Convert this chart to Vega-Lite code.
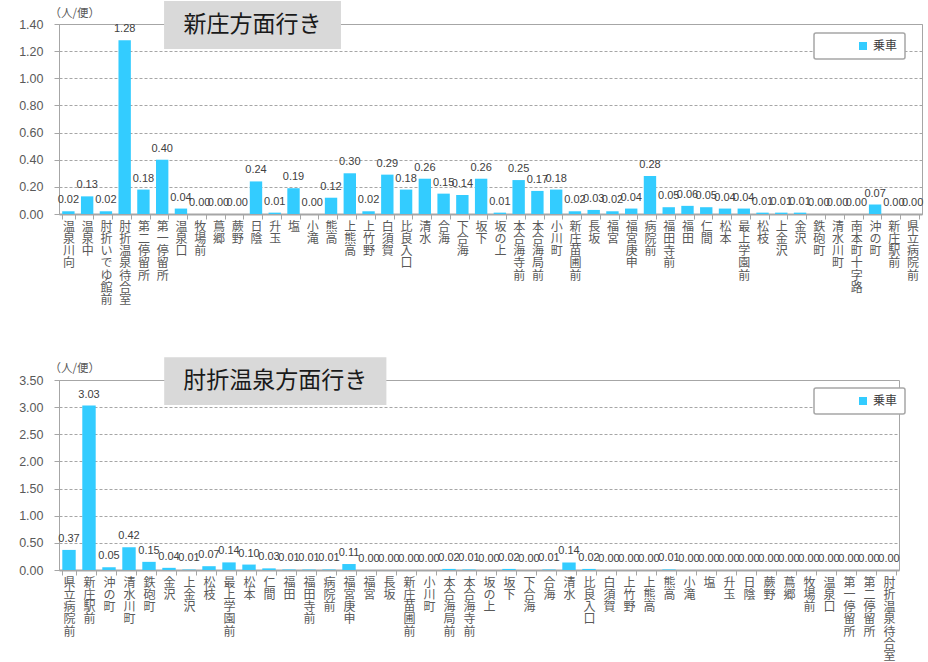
{
  "$schema": "https://vega.github.io/schema/vega-lite/v6.json",
  "padding": {"left": 18, "top": 0, "right": 0, "bottom": 0},
  "background": "white",
  "datasets": {
    "shinjo": [
      {"stop": "温泉川向", "v": 0.02},
      {"stop": "温泉中", "v": 0.13},
      {"stop": "肘折いでゆ館前", "v": 0.02},
      {"stop": "肘折温泉待合室", "v": 1.28},
      {"stop": "第二停留所", "v": 0.18},
      {"stop": "第一停留所", "v": 0.40},
      {"stop": "温泉口", "v": 0.04},
      {"stop": "牧場前", "v": 0.00},
      {"stop": "蔦郷", "v": 0.00},
      {"stop": "蕨野", "v": 0.00},
      {"stop": "日陰", "v": 0.24},
      {"stop": "升玉", "v": 0.01},
      {"stop": "塩", "v": 0.19},
      {"stop": "小滝", "v": 0.00},
      {"stop": "熊高", "v": 0.12},
      {"stop": "上熊高", "v": 0.30},
      {"stop": "上竹野", "v": 0.02},
      {"stop": "白須賀", "v": 0.29},
      {"stop": "比良入口", "v": 0.18},
      {"stop": "清水", "v": 0.26},
      {"stop": "合海", "v": 0.15},
      {"stop": "下合海", "v": 0.14},
      {"stop": "坂下", "v": 0.26},
      {"stop": "坂の上", "v": 0.01},
      {"stop": "本合海寺前", "v": 0.25},
      {"stop": "本合海局前", "v": 0.17},
      {"stop": "小川町", "v": 0.18},
      {"stop": "新庄苗圃前", "v": 0.02},
      {"stop": "長坂", "v": 0.03},
      {"stop": "福宮", "v": 0.02},
      {"stop": "福宮庚申", "v": 0.04},
      {"stop": "病院前", "v": 0.28},
      {"stop": "福田寺前", "v": 0.05},
      {"stop": "福田", "v": 0.06},
      {"stop": "仁間", "v": 0.05},
      {"stop": "松本", "v": 0.04},
      {"stop": "最上学園前", "v": 0.04},
      {"stop": "松枝", "v": 0.01},
      {"stop": "上金沢", "v": 0.01},
      {"stop": "金沢", "v": 0.01},
      {"stop": "鉄砲町", "v": 0.00},
      {"stop": "清水川町", "v": 0.00},
      {"stop": "南本町十字路", "v": 0.00},
      {"stop": "沖の町", "v": 0.07},
      {"stop": "新庄駅前", "v": 0.00},
      {"stop": "県立病院前", "v": 0.00}
    ],
    "hijiori": [
      {"stop": "県立病院前", "v": 0.37},
      {"stop": "新庄駅前", "v": 3.03},
      {"stop": "沖の町", "v": 0.05},
      {"stop": "清水川町", "v": 0.42},
      {"stop": "鉄砲町", "v": 0.15},
      {"stop": "金沢", "v": 0.04},
      {"stop": "上金沢", "v": 0.01},
      {"stop": "松枝", "v": 0.07},
      {"stop": "最上学園前", "v": 0.14},
      {"stop": "松本", "v": 0.10},
      {"stop": "仁間", "v": 0.03},
      {"stop": "福田", "v": 0.01},
      {"stop": "福田寺前", "v": 0.01},
      {"stop": "病院前", "v": 0.01},
      {"stop": "福宮庚申", "v": 0.11},
      {"stop": "福宮", "v": 0.00},
      {"stop": "長坂", "v": 0.00},
      {"stop": "新庄苗圃前", "v": 0.00},
      {"stop": "小川町", "v": 0.00},
      {"stop": "本合海局前", "v": 0.02},
      {"stop": "本合海寺前", "v": 0.01},
      {"stop": "坂の上", "v": 0.00},
      {"stop": "坂下", "v": 0.02},
      {"stop": "下合海", "v": 0.00},
      {"stop": "合海", "v": 0.01},
      {"stop": "清水", "v": 0.14},
      {"stop": "比良入口", "v": 0.02},
      {"stop": "白須賀", "v": 0.00},
      {"stop": "上竹野", "v": 0.00},
      {"stop": "上熊高", "v": 0.00},
      {"stop": "熊高", "v": 0.01},
      {"stop": "小滝", "v": 0.00},
      {"stop": "塩", "v": 0.00},
      {"stop": "升玉", "v": 0.00},
      {"stop": "日陰", "v": 0.00},
      {"stop": "蕨野", "v": 0.00},
      {"stop": "蔦郷", "v": 0.00},
      {"stop": "牧場前", "v": 0.00},
      {"stop": "温泉口", "v": 0.00},
      {"stop": "第一停留所", "v": 0.00},
      {"stop": "第二停留所", "v": 0.00},
      {"stop": "肘折温泉待合室", "v": 0.00}
    ],
    "title1": [{"t": "新庄方面行き"}],
    "title2": [{"t": "肘折温泉方面行き"}]
  },
  "spacing": 49,
  "resolve": {"scale": {"color": "independent"}, "legend": {"color": "independent"}},
  "vconcat": [
    {
      "width": 863,
      "height": 190,
      "resolve": {"scale": {"x": "independent"}, "axis": {"y": "independent"}},
      "layer": [
        {
          "data": {"name": "shinjo"},
          "encoding": {
            "x": {"field": "stop", "type": "nominal", "sort": null,
              "scale": {"paddingInner": 0.34, "paddingOuter": 0.17},
              "axis": {"title": null, "labelAngle": 0, "labelExpr": "split(datum.label, '')", "labelBaseline": "top", "labelAlign": "center",
                "labelFontSize": 12, "labelLineHeight": 12.3, "labelPadding": 2, "labelOverlap": false, "labelColor": "#595959",
                "tickBand": "extent", "tickSize": 5, "tickColor": "#a6a6a6", "domainColor": "#a6a6a6", "domainWidth": 2, "grid": false}},
            "y": {"field": "v", "type": "quantitative",
              "scale": {"domain": [0, 1.4], "nice": false},
              "axis": {"values": [0, 0.2, 0.4, 0.6, 0.8, 1.0, 1.2, 1.4], "format": ".2f", "title": "（人/便）",
                "titleAngle": 0, "titleAlign": "left", "titleBaseline": "middle", "titleX": -10, "titleY": -11,
                "titleFontSize": 11.5, "titleFontWeight": "normal", "titleColor": "#595959",
                "labelFont": "Liberation Sans", "labelFontSize": 12.5, "labelColor": "#595959", "labelPadding": 11,
                "labelOverlap": false, "labelFlush": false, "labelBound": false,
                "tickSize": 5, "tickColor": "#a6a6a6", "domainColor": "#a6a6a6",
                "gridColor": "#a6a6a6", "gridDash": [3, 2], "gridWidth": 1}}
          },
          "layer": [
            {"mark": {"type": "bar"},
             "encoding": {"color": {"datum": "乗車", "scale": {"range": ["#33CCFF"]},
               "legend": {"orient": "none", "legendX": 755, "legendY": 9, "title": null, "symbolType": "square", "symbolSize": 64,
                 "symbolOffset": 36, "padding": 7, "strokeColor": "#a6a6a6", "cornerRadius": 2, "fillColor": "white",
                 "labelFontSize": 12, "labelColor": "#404040", "labelExpr": "datum.label + '　　 '"}}}},
            {"mark": {"type": "text", "baseline": "bottom", "dy": -6, "font": "Liberation Sans", "fontSize": 11, "color": "#404040"},
             "encoding": {"text": {"field": "v", "type": "quantitative", "format": ".2f"}}}
          ]
        },
        {
          "data": {"name": "title1"},
          "mark": {"type": "rect", "color": "#d9d9d9"},
          "encoding": {
            "x": {"datum": 5.6, "type": "quantitative", "scale": {"domain": [0, 46], "nice": false, "zero": false}, "axis": null},
            "x2": {"datum": 15.03},
            "y": {"datum": 1.216, "type": "quantitative", "scale": {"domain": [0, 1.4], "nice": false}, "axis": null},
            "y2": {"datum": 1.57}
          }
        },
        {
          "data": {"name": "title1"},
          "mark": {"type": "text", "fontSize": 23, "color": "#1a1a1a", "align": "center", "baseline": "middle"},
          "encoding": {
            "x": {"datum": 10.31, "type": "quantitative", "scale": {"domain": [0, 46], "nice": false, "zero": false}, "axis": null},
            "y": {"datum": 1.393, "type": "quantitative", "scale": {"domain": [0, 1.4], "nice": false}, "axis": null},
            "text": {"field": "t"}
          }
        }
      ]
    },
    {
      "width": 840,
      "height": 190,
      "resolve": {"scale": {"x": "independent"}, "axis": {"y": "independent"}},
      "layer": [
        {
          "data": {"name": "hijiori"},
          "encoding": {
            "x": {"field": "stop", "type": "nominal", "sort": null,
              "scale": {"paddingInner": 0.33, "paddingOuter": 0.165},
              "axis": {"title": null, "labelAngle": 0, "labelExpr": "split(datum.label, '')", "labelBaseline": "top", "labelAlign": "center",
                "labelFontSize": 12, "labelLineHeight": 12.3, "labelPadding": 2, "labelOverlap": false, "labelColor": "#595959",
                "tickBand": "extent", "tickSize": 5, "tickColor": "#a6a6a6", "domainColor": "#a6a6a6", "domainWidth": 2, "grid": false}},
            "y": {"field": "v", "type": "quantitative",
              "scale": {"domain": [0, 3.5], "nice": false},
              "axis": {"values": [0, 0.5, 1.0, 1.5, 2.0, 2.5, 3.0, 3.5], "format": ".2f", "title": "（人/便）",
                "titleAngle": 0, "titleAlign": "left", "titleBaseline": "middle", "titleX": -10, "titleY": -12,
                "titleFontSize": 11.5, "titleFontWeight": "normal", "titleColor": "#595959",
                "labelFont": "Liberation Sans", "labelFontSize": 12.5, "labelColor": "#595959", "labelPadding": 11,
                "labelOverlap": false, "labelFlush": false, "labelBound": false,
                "tickSize": 5, "tickColor": "#a6a6a6", "domainColor": "#a6a6a6",
                "gridColor": "#a6a6a6", "gridDash": [3, 2], "gridWidth": 1}}
          },
          "layer": [
            {"mark": {"type": "bar"},
             "encoding": {"color": {"datum": "乗車", "scale": {"range": ["#33CCFF"]},
               "legend": {"orient": "none", "legendX": 755, "legendY": 8, "title": null, "symbolType": "square", "symbolSize": 64,
                 "symbolOffset": 36, "padding": 7, "strokeColor": "#a6a6a6", "cornerRadius": 2, "fillColor": "white",
                 "labelFontSize": 12, "labelColor": "#404040", "labelExpr": "datum.label + '　　 '"}}}},
            {"mark": {"type": "text", "baseline": "bottom", "dy": -6, "font": "Liberation Sans", "fontSize": 11, "color": "#404040"},
             "encoding": {"text": {"field": "v", "type": "quantitative", "format": ".2f"}}}
          ]
        },
        {
          "data": {"name": "title2"},
          "mark": {"type": "rect", "color": "#d9d9d9"},
          "encoding": {
            "x": {"datum": 5.26, "type": "quantitative", "scale": {"domain": [0, 42], "nice": false, "zero": false}, "axis": null},
            "x2": {"datum": 16.37},
            "y": {"datum": 3.04, "type": "quantitative", "scale": {"domain": [0, 3.5], "nice": false}, "axis": null},
            "y2": {"datum": 3.92}
          }
        },
        {
          "data": {"name": "title2"},
          "mark": {"type": "text", "fontSize": 23, "color": "#1a1a1a", "align": "center", "baseline": "middle"},
          "encoding": {
            "x": {"datum": 10.81, "type": "quantitative", "scale": {"domain": [0, 42], "nice": false, "zero": false}, "axis": null},
            "y": {"datum": 3.48, "type": "quantitative", "scale": {"domain": [0, 3.5], "nice": false}, "axis": null},
            "text": {"field": "t"}
          }
        }
      ]
    }
  ],
  "config": {
    "font": "Noto Sans CJK JP",
    "view": {"stroke": "#a6a6a6", "strokeWidth": 1},
    "axis": {"labelFont": "Noto Sans CJK JP", "titleFont": "Noto Sans CJK JP"},
    "legend": {"labelFont": "Noto Sans CJK JP", "strokeWidth": 1.5}
  }
}
